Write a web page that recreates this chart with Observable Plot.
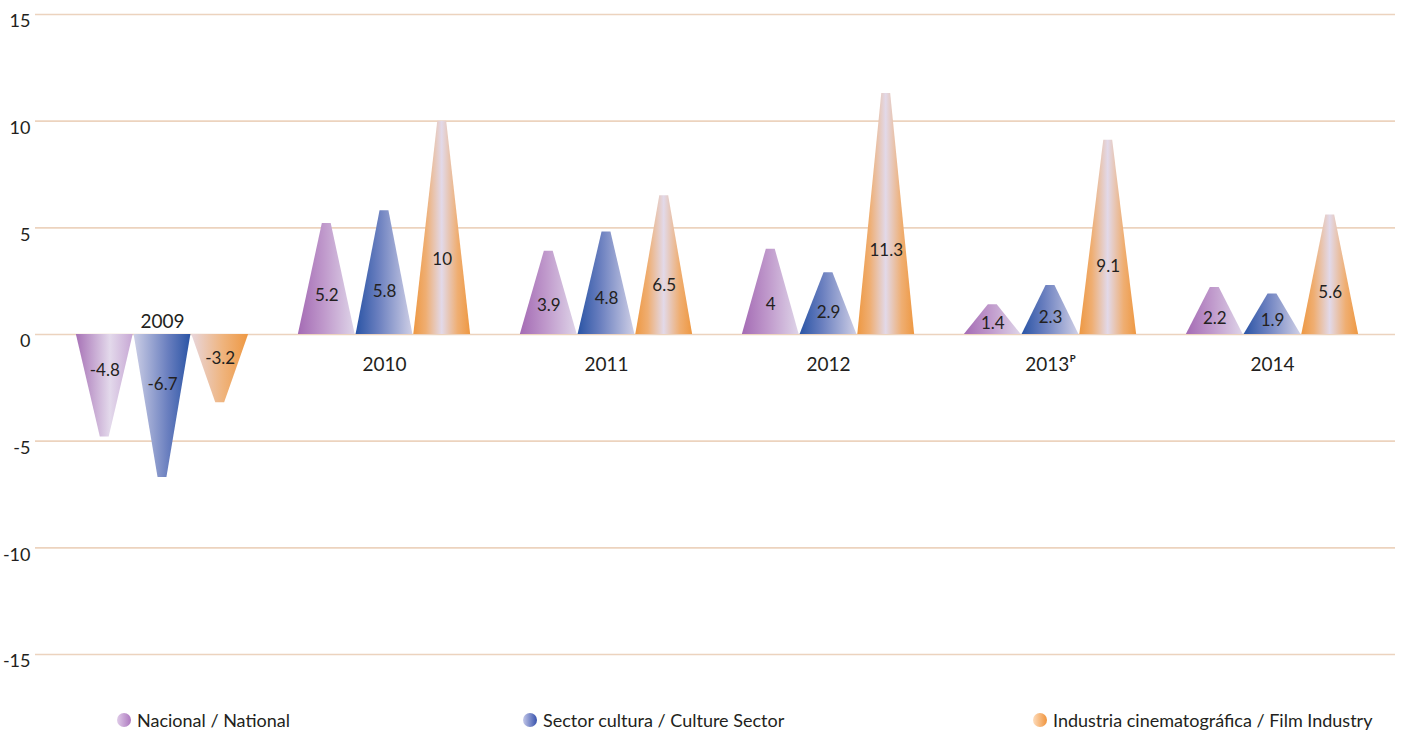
<!DOCTYPE html>
<html>
<head>
<meta charset="utf-8">
<script src="https://cdn.jsdelivr.net/npm/d3@7"></script>
<script src="https://cdn.jsdelivr.net/npm/@observablehq/plot@0.6"></script>
<style>
  body { margin: 0; background: #fff; font-family: "Lato", sans-serif; }
  #chart svg { display: block; }
  #legend { position: relative; width: 1403px; height: 44px; }
  #legend .item { position: absolute; top: 19px; display: flex; align-items: center; font-size: 18px; line-height: 22px; color: #231f20; white-space: nowrap; }
  #legend .dot { width: 14px; height: 14px; border-radius: 50%; margin-right: 6px; }
</style>
</head>
<body>
<div id="chart"></div>
<div id="legend"></div>
<script>
// Annual growth (%) by year
const years = ["2009", "2010", "2011", "2012", "2013ᴾ", "2014"];
const nacional = [-4.8, 5.2, 3.9, 4, 1.4, 2.2];
const cultura = [-6.7, 5.8, 4.8, 2.9, 2.3, 1.9];
const cine = [-3.2, 10, 6.5, 11.3, 9.1, 5.6];
const seriesNames = ["Nacional / National", "Sector cultura / Culture Sector", "Industria cinematográfica / Film Industry"];
const seriesKeys = ["nac", "cul", "cin"];
const yTicks = [-15, -10, -5, 0, 5, 10, 15];

const seriesValues = [nacional, cultura, cine];

// One row per cone
const rows = [];
years.forEach((year, i) => {
  seriesValues.forEach((vals, s) => {
    rows.push({year, i, s, key: seriesKeys[s], value: vals[i], id: `${i}-${s}`});
  });
});

// Cone geometry within each year group (in x units: one unit per year)
const offsets = [-0.26, 0, 0.26];
const baseHalf = 0.128;
const tipHalf = 0.02;
const coneX = (d) => d.i + offsets[d.s];

const conePoints = rows.flatMap((d) => {
  const cx = coneX(d);
  const grad = `${d.key}-${d.value < 0 ? "neg" : "pos"}`;
  return [
    {id: d.id, grad, y: 0, x1: cx - baseHalf, x2: cx + baseHalf},
    {id: d.id, grad, y: d.value, x1: cx - tipHalf, x2: cx + tipHalf}
  ];
});

const gradients = {
  "nac-pos": [[0, "#a46bb4"], [0.45, "#bf98cb"], [1, "#ded4e8"]],
  "nac-neg": [[0, "#a772b6"], [0.6, "#e3d9eb"], [1, "#c7a7d4"]],
  "cul-pos": [[0, "#2a54a5"], [0.4, "#6a7fbf"], [1, "#cfcfe6"]],
  "cul-neg": [[0, "#cdcfe6"], [0.6, "#6a7fbf"], [1, "#2a54a5"]],
  "cin-pos": [[0, "#ee9842"], [0.22, "#efae72"], [0.5, "#e2d9e9"], [0.78, "#efae72"], [1, "#ee9842"]],
  "cin-neg": [[0, "#e8d6dc"], [0.55, "#efb47e"], [1, "#ee9842"]]
};

const coneMarks = Object.keys(gradients).map((g) =>
  Plot.areaX(conePoints.filter((p) => p.grad === g), {
    x1: "x1", x2: "x2", y: "y", z: "id", fill: `url(#g-${g})`, curve: "linear"
  })
);

// Year labels: above the axis for groups below zero, below it otherwise
const yearRows = years.map((year, i) => ({year, i, neg: Math.min(nacional[i], cultura[i], cine[i]) < 0}));

const chart = Plot.plot({
  width: 1403,
  height: 690,
  marginLeft: 35,
  marginRight: 8,
  marginTop: 14,
  marginBottom: 36,
  style: {fontFamily: "Lato, sans-serif", color: "#231f20", background: "#fff"},
  x: {type: "linear", domain: [-0.572, 5.554], axis: null},
  y: {domain: [-15, 15], axis: null},
  marks: [
    Plot.ruleY(yTicks, {stroke: "#ecd3be", strokeWidth: 1.6}),
    ...coneMarks,
    Plot.text(rows, {
      x: coneX, y: (d) => d.value * 0.35, text: (d) => String(d.value),
      fontSize: 17, fill: "#231f20"
    }),
    Plot.text(yearRows.filter((d) => d.neg), {x: "i", y: 0, text: "year", dy: -13, fontSize: 19, fill: "#231f20"}),
    Plot.text(yearRows.filter((d) => !d.neg), {x: "i", y: 0, text: "year", dy: 30, fontSize: 19, fill: "#231f20"}),
    Plot.axisY(yTicks, {
      tickSize: 0, tickPadding: 5, dy: 7, fontSize: 18, fill: "#231f20", label: null,
      tickFormat: (d) => String(d)
    })
  ]
});

// Gradient definitions for the cones
const defs = d3.select(chart).insert("defs", ":first-child");
for (const [g, stops] of Object.entries(gradients)) {
  const lg = defs.append("linearGradient").attr("id", `g-${g}`).attr("x1", "0").attr("x2", "1").attr("y1", "0").attr("y2", "0");
  for (const [o, c] of stops) lg.append("stop").attr("offset", o).attr("stop-color", c);
}

document.getElementById("chart").appendChild(chart);

// Legend below the chart
const legendDots = [
  "linear-gradient(90deg, #dfcbe8, #ad78bf)",
  "linear-gradient(90deg, #c3c7e8, #3752ad)",
  "linear-gradient(90deg, #fddcbc, #f0943c)"
];
const legendLeft = [117, 523, 1033];
const legend = d3.select("#legend");
seriesNames.forEach((name, s) => {
  const item = legend.append("div").attr("class", "item").style("left", legendLeft[s] + "px");
  item.append("div").attr("class", "dot").style("background", legendDots[s]);
  item.append("span").text(name);
});
</script>
</body>
</html>
